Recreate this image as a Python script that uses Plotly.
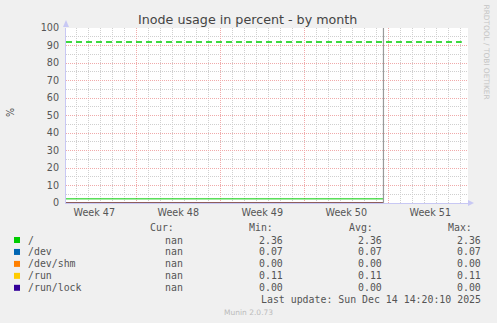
import plotly.graph_objects as go

# ---------------- data ----------------
series_names = ["/", "/dev", "/dev/shm", "/run", "/run/lock"]
series_colors = ["#00CC00", "#0066B3", "#FF8000", "#FFCC00", "#330099"]
cur_vals = ["nan", "nan", "nan", "nan", "nan"]
min_vals = [2.36, 0.07, 0.00, 0.11, 0.00]
avg_vals = [2.36, 0.07, 0.00, 0.11, 0.00]
max_vals = [2.36, 0.07, 0.00, 0.11, 0.00]

sample_times = ["2025-11-18 03:25", "2025-12-14 14:20"]
values_root = [2.36, 2.36]
values_dev = [0.07, 0.07]
values_devshm = [0.00, 0.00]
values_run = [0.11, 0.11]
values_runlock = [0.00, 0.00]
series_values = [values_root, values_dev, values_devshm, values_run, values_runlock]

warning_level = 92
warning_span = ["2025-11-18 03:25", "2025-12-21 03:00"]
x_range = ["2025-11-18 03:25", "2025-12-21 15:25"]
now_time = "2025-12-14 14:20:10"
last_update = "Last update: Sun Dec 14 14:20:10 2025"

week_labels = ["Week 47", "Week 48", "Week 49", "Week 50", "Week 51"]
week_centers = ["2025-11-20 12:00", "2025-11-27 12:00", "2025-12-04 12:00",
                "2025-12-11 12:00", "2025-12-18 12:00"]
y_ticks = [0, 10, 20, 30, 40, 50, 60, 70, 80, 90, 100]

# ---------------- layout constants ----------------
W, H = 497, 323
L, R, T, B = 66, 468, 28, 203
FONT = "DejaVu Sans"
MONO = "DejaVu Sans Mono"
TXT = "#555555"
MGRID = "#F0AAAA"
GRID = "#CFCFCF"
AXIS = "#C8C8F4"


def px(p):
    return (p - L) / (R - L)


def py(p):
    return (B - p) / (B - T)


fig = go.Figure()

for name, color, vals in zip(series_names, series_colors, series_values):
    fig.add_trace(go.Scatter(x=sample_times, y=vals, mode="lines", name=name,
                             line=dict(color=color, width=1), showlegend=False,
                             hoverinfo="skip"))

fig.add_trace(go.Scatter(x=warning_span, y=[warning_level, warning_level], mode="lines",
                         line=dict(color="#00CC00", width=1.6, dash="6px,4px"),
                         showlegend=False, hoverinfo="skip"))

# now marker (vertical rule at last update time)
fig.add_trace(go.Scatter(x=[now_time, now_time], y=[0, 100], mode="lines",
                         line=dict(color="#9A9A9A", width=1.2),
                         showlegend=False, hoverinfo="skip"))

# dummy trace for label axis
fig.add_trace(go.Scatter(x=x_range, y=[None, None], xaxis="x2", mode="lines",
                         showlegend=False, hoverinfo="skip"))

fig.update_layout(
    width=W, height=H,
    margin=dict(l=L, r=W - R, t=T, b=H - B, pad=0),
    paper_bgcolor="#F0F0F0", plot_bgcolor="#FFFFFF",
    font=dict(family=FONT, color=TXT, size=10),
    title=dict(text="Inode usage in percent - by month", x=247.7 / W, xanchor="center",
               y=1 - 19.5 / H, yanchor="middle", yref="container",
               font=dict(family=FONT, size=12.7, color="#444444")),
    xaxis=dict(type="date", range=x_range, showticklabels=False, ticks="",
               tick0="2025-11-17", dtick=7 * 86400000,
               showgrid=True, gridcolor=MGRID, griddash="1px,1px", gridwidth=1,
               minor=dict(dtick=86400000, tick0="2025-11-17", showgrid=True,
                          gridcolor=GRID, griddash="1px,1px", gridwidth=1),
               showline=True, linecolor=AXIS, linewidth=1, zeroline=False,
               fixedrange=True),
    xaxis2=dict(type="date", range=x_range, overlaying="x", side="bottom",
                tickmode="array", tickvals=week_centers, ticktext=week_labels,
                ticks="", showgrid=False, showline=False, zeroline=False,
                tickfont=dict(family=FONT, size=9.6, color=TXT),
                ticklabelstandoff=2),
    yaxis=dict(range=[0, 100], tickmode="array", tickvals=y_ticks, ticks="",
               showgrid=True, gridcolor=MGRID, griddash="1px,1px",
               minor=dict(dtick=5, showgrid=True, gridcolor=GRID, griddash="1px,1px"),
               showline=True, linecolor=AXIS, linewidth=1, zeroline=False,
               tickfont=dict(family=FONT, size=9.6, color=TXT),
               ticklabelstandoff=4, fixedrange=True),
)

# axis arrows
fig.add_shape(type="path", xref="paper", yref="paper",
              path=f"M {px(63)} {py(27)} L {px(69)} {py(27)} L {px(66)} {py(20)} Z",
              fillcolor=AXIS, line=dict(width=0))
fig.add_shape(type="path", xref="paper", yref="paper",
              path=f"M {px(468)} {py(200)} L {px(468)} {py(206)} L {px(474)} {py(203)} Z",
              fillcolor=AXIS, line=dict(width=0))
fig.add_shape(type="line", xref="paper", yref="paper", x0=1, x1=px(470),
              y0=0, y1=0, line=dict(color=AXIS, width=1))


def ann(text, x, y, xanchor="left", font=MONO, size=9.9, color=TXT, angle=0):
    fig.add_annotation(text=text, xref="paper", yref="paper", x=px(x), y=py(y),
                       xanchor=xanchor, yanchor="middle", showarrow=False,
                       textangle=angle, borderpad=0,
                       font=dict(family=font, size=size, color=color))


# y label
ann("%", 10, 113, xanchor="center", font=FONT, size=9.6, angle=-90)
# right vertical credit
ann("RRDTOOL / TOBI OETIKER", 486, 52.5, xanchor="center", font=FONT, size=7.4,
    color="#C4C4C4", angle=90)

# legend table
header_y = 227.7
ann("Cur:", 149.3, header_y)
ann("Min:", 248, header_y)
ann("Avg:", 348, header_y)
ann("Max:", 446.7, header_y)

row_y0 = 240
row_dy = 11.95
for i, name in enumerate(series_names):
    y = row_y0 + i * row_dy
    fig.add_shape(type="rect", xref="paper", yref="paper",
                  x0=px(14), x1=px(20), y0=py(y + 3), y1=py(y - 3),
                  fillcolor=series_colors[i], line=dict(width=0))
    ann(name, 26.7, y)
    ann(cur_vals[i], 184.3, y, xanchor="right")
    ann(f"{min_vals[i]:.2f}", 284.3, y, xanchor="right")
    ann(f"{avg_vals[i]:.2f}", 383.3, y, xanchor="right")
    ann(f"{max_vals[i]:.2f}", 482.3, y, xanchor="right")

ann(last_update, 482.3, 299.5, xanchor="right")
ann("Munin 2.0.73", 248, 312.7, xanchor="center", font=FONT, size=7.5, color="#BBBBBB")

fig.write_html("out.html")
